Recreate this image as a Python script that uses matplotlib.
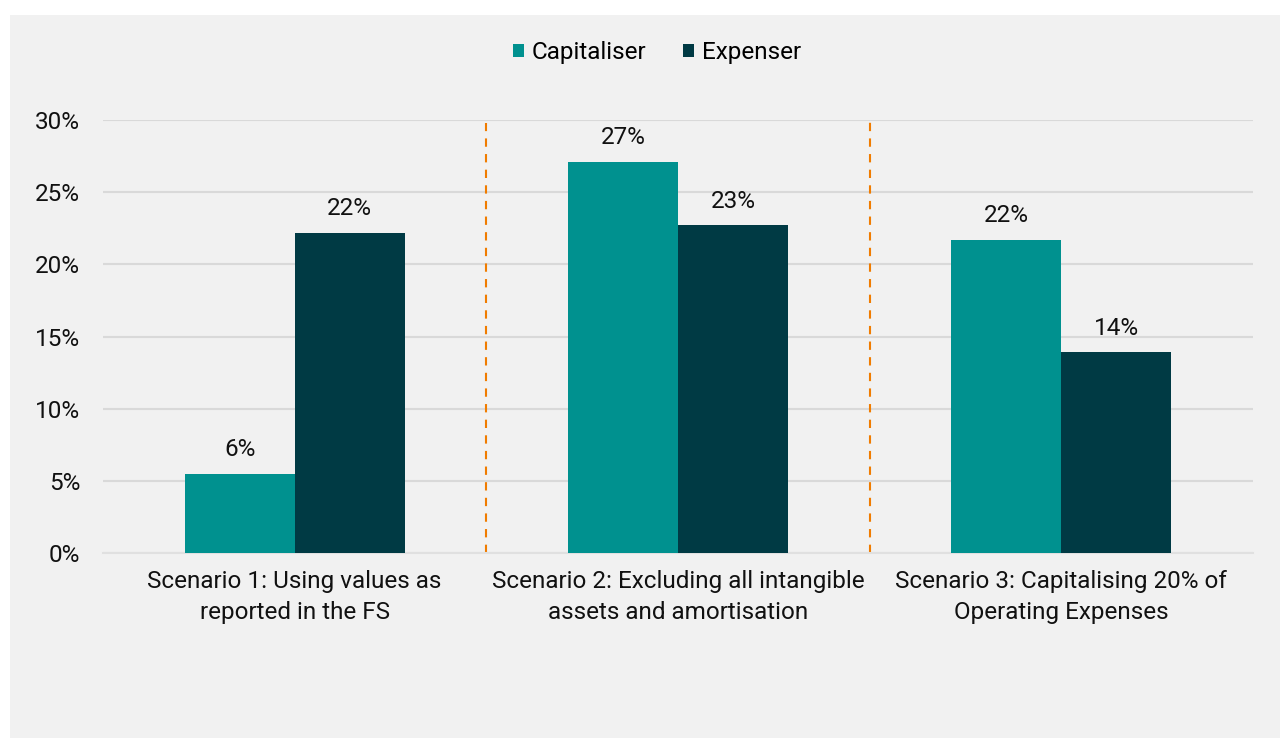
import numpy as np
import matplotlib.pyplot as plt
from matplotlib.patches import Rectangle
from matplotlib.ticker import PercentFormatter

plt.rcParams['font.family'] = ['Roboto', 'DejaVu Sans']

scenarios = ["Scenario 1: Using values as\nreported in the FS",
             "Scenario 2: Excluding all intangible\nassets and amortisation",
             "Scenario 3: Capitalising 20% of\nOperating Expenses"]
capitaliser = [5.5, 27.1, 21.7]
expenser = [22.2, 22.7, 13.9]
cap_labels = ["6%", "27%", "22%"]
exp_labels = ["22%", "23%", "14%"]

teal = "#00918f"
dark = "#003a44"
bg = "#f1f1f1"
fs = 17.5

fig = plt.figure(figsize=(12.8, 7.38), dpi=100)
fig.patch.set_facecolor("white")
# grey panel behind the chart
fig.patches.append(Rectangle((10/1280, 0), 1270/1280, 723/738, transform=fig.transFigure,
                             facecolor=bg, edgecolor="none", zorder=0))

ax = fig.add_axes([103/1280, 1 - 553/738, 1150/1280, 433/738])
ax.set_zorder(2)
ax.patch.set_alpha(0)

x = np.arange(len(scenarios))
w = 0.287
b1 = ax.bar(x - w/2, capitaliser, w, color=teal, label="Capitaliser", zorder=3)
b2 = ax.bar(x + w/2, expenser, w, color=dark, label="Expenser", zorder=3)

for bars, labs in [(b1, cap_labels), (b2, exp_labels)]:
    for r, t in zip(bars, labs):
        ax.annotate(t, (r.get_x() + r.get_width()/2, r.get_height()),
                    xytext=(0, 9), textcoords="offset points",
                    ha="center", va="bottom", fontsize=fs, color="#111111")

# dashed separators between scenarios
ax.plot([0.5, 0.5], [0, 29.8], ls=(0, (4, 3.5)), color="#f07c00", lw=1.5, clip_on=False, zorder=2)
ax.plot([1.5, 1.5], [0, 30.3], ls=(0, (4, 3.5)), color="#f07c00", lw=1.5, clip_on=False, zorder=2)

ax.set_xlim(-0.5, 2.5)
ax.set_ylim(0, 30)
ax.set_yticks(range(0, 31, 5))
ax.yaxis.set_major_formatter(PercentFormatter(decimals=0))
ax.yaxis.grid(True, color="#d9d9d9", lw=1.5, zorder=0)
ax.set_axisbelow(True)
ax.set_xticks(x)
ax.set_xticklabels(scenarios, fontsize=fs, color="#111111", linespacing=1.4)
ax.tick_params(axis="y", length=0, pad=16.5, labelsize=fs, labelcolor="#111111")
ax.tick_params(axis="x", length=0, pad=12.5)
for s in ["top", "right", "left"]:
    ax.spines[s].set_visible(False)
ax.spines["bottom"].set_color("#e0e0e0")
ax.spines["bottom"].set_linewidth(1.5)

fig.legend(loc="center", bbox_to_anchor=(657/1280, 1 - 53/738), ncol=2, frameon=False,
           fontsize=fs, handlelength=0.45, handleheight=0.45, handletextpad=0.33,
           columnspacing=1.5)

fig.savefig("out.png", dpi=100, facecolor=fig.get_facecolor())
